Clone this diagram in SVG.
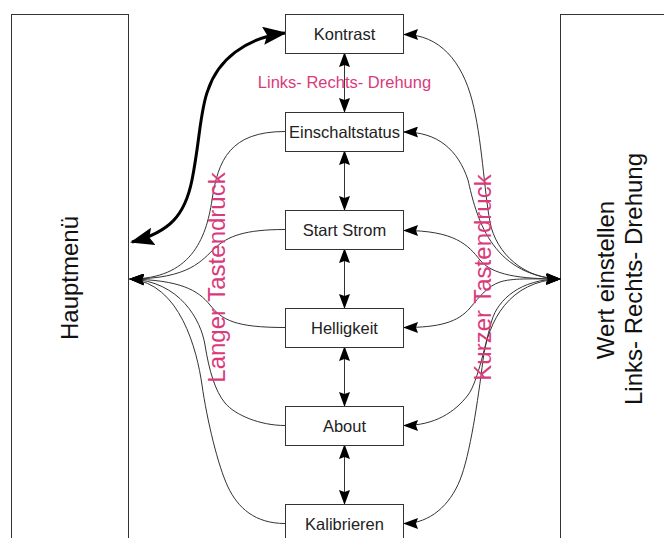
<svg xmlns="http://www.w3.org/2000/svg" width="664" height="538" viewBox="0 0 664 538">
<defs>
<style>
.box{fill:#fff;stroke:#333;stroke-width:1}
.big{fill:#fff;stroke:#333;stroke-width:1}
.lbl{font-family:"Liberation Sans",Arial,sans-serif;font-size:16.5px;fill:#222;text-anchor:middle}
.side{font-family:"Liberation Sans",Arial,sans-serif;font-size:24px;fill:#111;text-anchor:middle}
.pink{font-family:"Liberation Sans",Arial,sans-serif;fill:#DA3A7C;text-anchor:middle}
.c{fill:none;stroke:#333;stroke-width:1}
.thick{fill:none;stroke:#000;stroke-width:3}
</style>
<marker id="ah" viewBox="0 0 15 11" refX="14" refY="5.5" markerWidth="15" markerHeight="11" markerUnits="userSpaceOnUse" orient="auto-start-reverse">
<path d="M0,0 L15,5.5 L0,11 L2,5.5 z" fill="#000"/>
</marker>
<marker id="ahb" viewBox="0 0 24 18" refX="22" refY="9" markerWidth="24" markerHeight="18" markerUnits="userSpaceOnUse" orient="auto-start-reverse">
<path d="M0,0 L24,9 L0,18 L4,9 z" fill="#000"/>
</marker>
</defs>
<rect width="664" height="538" fill="#fff"/>

<g id="hauptmenue">
<rect class="big" x="11.5" y="14.5" width="117" height="540"/>
<text class="side" transform="translate(78,278) rotate(-90)">Hauptmenü</text>
</g>
<g id="wert-einstellen">
<rect class="big" x="560.5" y="14.5" width="120" height="540"/>
<text class="side" transform="translate(614,280) rotate(-90)">Wert einstellen</text>
<text class="side" transform="translate(642,279) rotate(-90)">Links- Rechts- Drehung</text>
</g>

<g id="connectors">
<path class="thick" d="M132,242 C170,232 185,215 192,180 C200,140 200,110 208,90 C218,60 245,38 285,33" marker-start="url(#ahb)" marker-end="url(#ahb)"/>
<path class="c" d="M344.5,53 L344.5,112" marker-start="url(#ah)" marker-end="url(#ah)"/>
<path class="c" d="M344.5,151 L344.5,210" marker-start="url(#ah)" marker-end="url(#ah)"/>
<path class="c" d="M344.5,249 L344.5,308" marker-start="url(#ah)" marker-end="url(#ah)"/>
<path class="c" d="M344.5,347 L344.5,406" marker-start="url(#ah)" marker-end="url(#ah)"/>
<path class="c" d="M344.5,445 L344.5,504" marker-start="url(#ah)" marker-end="url(#ah)"/>
<path class="c" d="M285,131.5 C230,131.5 218,160 212,200 C206,240 190,279 130,279" marker-end="url(#ah)"/>
<path class="c" d="M285,229.5 C245,229.5 228,236 215,248 C202,260 190,279 130,279" marker-end="url(#ah)"/>
<path class="c" d="M285,327.5 C235,327.5 222,320 210,305 C198,290 180,280 130,279" marker-end="url(#ah)"/>
<path class="c" d="M285,425.5 C260,425.5 235,415 225,403 C215,391 209,370 205,345 C201,320 180,281 130,279" marker-end="url(#ah)"/>
<path class="c" d="M285,523.5 C255,523.5 238,508 228,487 C218,466 207,420 202,385 C197,350 180,283 130,279" marker-end="url(#ah)"/>
<path class="c" d="M404,34.5 C440,34.5 462,62 472,100 C482,138 484,190 490,222 C496,254 525,279 560,279" marker-start="url(#ah)" marker-end="url(#ah)"/>
<path class="c" d="M404,132 C438,132 458,150 468,180 C476,215 490,275 560,279" marker-start="url(#ah)" marker-end="url(#ah)"/>
<path class="c" d="M404,230.5 C455,230.5 468,245 480,260 C492,275 520,279 560,279" marker-start="url(#ah)" marker-end="url(#ah)"/>
<path class="c" d="M404,327.5 C440,327.5 458,322 470,308 C480,296 488,286 500,282 C512,278 530,279 560,279" marker-start="url(#ah)" marker-end="url(#ah)"/>
<path class="c" d="M404,425.5 C435,425.5 455,412 468,395 C478,382 486,340 492,320 C498,300 520,279 560,279" marker-start="url(#ah)" marker-end="url(#ah)"/>
<path class="c" d="M404,523.5 C430,523.5 450,505 460,480 C470,455 478,400 483,360 C488,320 510,281 560,279" marker-start="url(#ah)" marker-end="url(#ah)"/>
</g>

<g id="kontrast"><rect class="box" x="285.5" y="14.5" width="118" height="39"/><text class="lbl" x="344.5" y="39.5">Kontrast</text></g>
<g id="einschaltstatus"><rect class="box" x="285.5" y="112.5" width="118" height="39"/><text class="lbl" x="344.5" y="137.5">Einschaltstatus</text></g>
<g id="start-strom"><rect class="box" x="285.5" y="210.5" width="118" height="39"/><text class="lbl" x="344.5" y="235.5">Start Strom</text></g>
<g id="helligkeit"><rect class="box" x="285.5" y="308.5" width="118" height="39"/><text class="lbl" x="344.5" y="333.5">Helligkeit</text></g>
<g id="about"><rect class="box" x="285.5" y="406.5" width="118" height="39"/><text class="lbl" x="344.5" y="431.5">About</text></g>
<g id="kalibrieren"><rect class="box" x="285.5" y="504.5" width="118" height="39"/><text class="lbl" x="344.5" y="529.5">Kalibrieren</text></g>

<g id="labels">
<text class="pink" x="344.5" y="88" font-size="16.5">Links- Rechts- Drehung</text>
<text class="pink" font-size="24" transform="translate(225,277.5) rotate(-90)">Langer Tastendruck</text>
<text class="pink" font-size="24" transform="translate(491,277.5) rotate(-90)">Kurzer Tastendruck</text>
</g>
</svg>
